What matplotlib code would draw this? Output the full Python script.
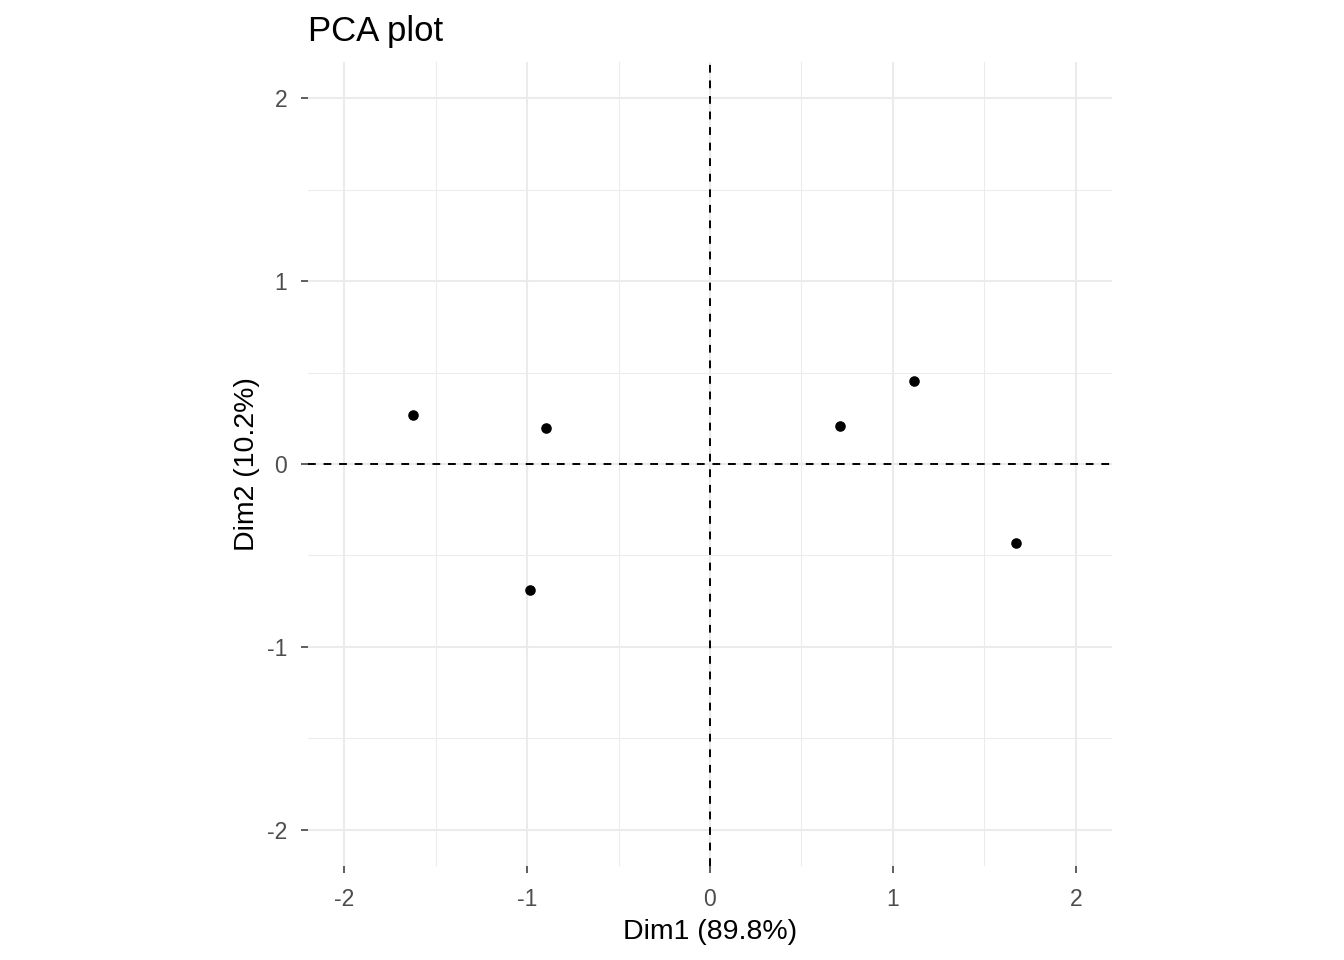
import matplotlib
matplotlib.use("Agg")
import matplotlib.pyplot as plt
from matplotlib.ticker import FixedLocator

# Data
dim1 = [-1.623, -0.896, -0.984, 0.710, 1.115, 1.672]
dim2 = [0.268, 0.197, -0.689, 0.208, 0.454, -0.432]
major_ticks = [-2, -1, 0, 1, 2]
minor_ticks = [-1.5, -0.5, 0.5, 1.5]
tick_labels = ["-2", "-1", "0", "1", "2"]
xlabel = "Dim1 (89.8%)"
ylabel = "Dim2 (10.2%)"
title = "PCA plot"

plt.rcParams['font.family'] = ['Liberation Sans', 'DejaVu Sans']

W, H = 1344, 960
fig = plt.figure(figsize=(W / 100, H / 100), dpi=100)
ax = fig.add_axes([308 / W, 1 - 866 / H, 804 / W, 804 / H])

lim = 2.197
ax.set_xlim(-lim, lim)
ax.set_ylim(-lim, lim)

for s in ax.spines.values():
    s.set_visible(False)

ax.xaxis.set_major_locator(FixedLocator(major_ticks))
ax.yaxis.set_major_locator(FixedLocator(major_ticks))
ax.xaxis.set_minor_locator(FixedLocator(minor_ticks))
ax.yaxis.set_minor_locator(FixedLocator(minor_ticks))
ax.set_xticklabels(tick_labels)
ax.set_yticklabels(tick_labels)

ax.grid(which='major', color='#EBEBEB', linewidth=1.45)
ax.grid(which='minor', color='#EBEBEB', linewidth=0.75)
ax.set_axisbelow(True)

ax.tick_params(which='major', length=5, width=1.1, color='#333333',
               labelcolor='#4D4D4D', labelsize=16.5)
ax.tick_params(axis='x', which='major', pad=10.5)
ax.tick_params(axis='y', which='major', pad=10)
ax.tick_params(which='minor', length=0)

ax.axhline(0, color='black', linewidth=1.4, linestyle=(0, (4, 4)), zorder=2)
ax.axvline(0, color='black', linewidth=1.4, linestyle=(0, (4, 4)), zorder=2)

ax.scatter(dim1, dim2, s=58, color='black', zorder=3, linewidths=0)

ax.set_xlabel(xlabel, fontsize=20.5, color='black', labelpad=6)
ax.set_ylabel(ylabel, fontsize=20.5, color='black', labelpad=5)

fig.text(308 / W, 1 - 41 / H, title, fontsize=25, color='black',
         ha='left', va='baseline')

fig.savefig("out.png", dpi=100, facecolor='white')
